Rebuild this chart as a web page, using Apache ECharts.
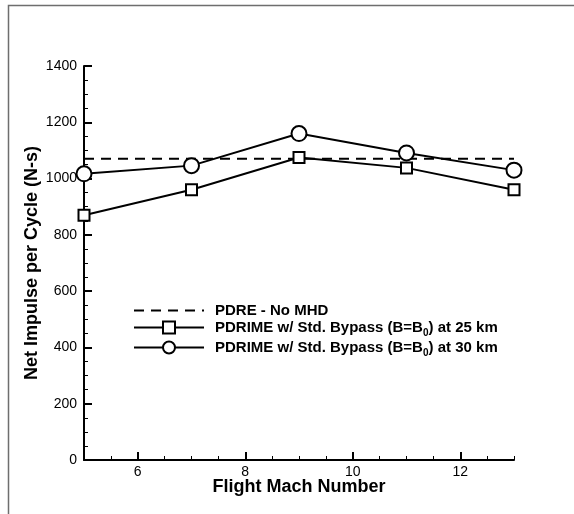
<!DOCTYPE html>
<html>
<head>
<meta charset="utf-8">
<script src="https://cdn.jsdelivr.net/npm/echarts@6/dist/echarts.min.js"></script>
<style>
  html, body { margin: 0; padding: 0; background: #fff; }
  #chart { width: 574px; height: 514px; }
</style>
</head>
<body>
<div id="chart"></div>
<script>
// Flight Mach number samples
const machNumbers = [5, 7, 9, 11, 13];
// Net impulse per cycle (N-s)
const bypass25km = [870, 960, 1075, 1038, 960];
const bypass30km = [1017, 1046, 1160, 1091, 1030];
const noMhdLevel = 1070;
const noMhd = [[5, noMhdLevel], [13, noMhdLevel]];

const xMajorTicks = [6, 8, 10, 12];
const xMinorTicks = [5.5, 6.5, 7, 7.5, 8.5, 9, 9.5, 10.5, 11, 11.5, 12.5, 13];

const seriesNames = [
  'PDRE - No MHD',
  'PDRIME w/ Std. Bypass (B=B0) at 25 km',
  'PDRIME w/ Std. Bypass (B=B0) at 30 km'
];

const FONT = '"Liberation Sans", Arial, sans-serif';

const chart = echarts.init(document.getElementById('chart'), null, { renderer: 'canvas' });

const xBase = {
  type: 'value',
  min: 5,
  max: 13,
  interval: 1,
  position: 'bottom',
  splitLine: { show: false }
};

chart.setOption({
  backgroundColor: '#fff',
  animation: false,
  grid: { left: 84, right: 60, top: 66, bottom: 54 },
  graphic: [{
    type: 'polyline',
    shape: { points: [[8.5, 520], [8.5, 5.5], [580, 5.5]] },
    style: { stroke: '#6e6e6e', lineWidth: 1.5, fill: null },
    silent: true
  }],
  legend: {
    left: 133,
    top: 303,
    padding: 0,
    orient: 'vertical',
    itemWidth: 70,
    itemHeight: 15,
    itemGap: 2,
    data: [
      { name: seriesNames[0], itemStyle: { opacity: 0 } },
      { name: seriesNames[1] },
      { name: seriesNames[2] }
    ],
    textStyle: {
      fontFamily: FONT,
      fontSize: 15,
      fontWeight: 'bold',
      color: '#000',
      padding: [0, 0, 0, 6],
      rich: {
        b: { fontFamily: FONT, fontSize: 15, fontWeight: 'bold', color: '#000' },
        sub: { fontFamily: FONT, fontSize: 10, fontWeight: 'bold', color: '#000', verticalAlign: 'bottom', padding: [0, 0, -3, 0] }
      }
    },
    formatter: function (name) {
      const parts = name.split('B=B0');
      if (parts.length === 1) return '{b|' + name + '}';
      return '{b|' + parts[0] + 'B=B}{sub|0}{b|' + parts[1] + '}';
    }
  },
  xAxis: [
    Object.assign({}, xBase, {
      axisLine: { show: true, onZero: false, lineStyle: { color: '#000', width: 2 } },
      axisTick: { show: true, inside: true, length: 8, customValues: xMajorTicks, lineStyle: { color: '#000', width: 2 } },
      axisLabel: { show: true, customValues: xMajorTicks, margin: 5, color: '#000', fontFamily: FONT, fontSize: 14 },
      name: 'Flight Mach Number',
      nameLocation: 'middle',
      nameGap: 18,
      nameMoveOverlap: false,
      nameTextStyle: { fontFamily: FONT, fontSize: 18, fontWeight: 'bold', color: '#000' }
    }),
    Object.assign({}, xBase, {
      axisLine: { show: false },
      axisTick: { show: true, inside: true, length: 4, customValues: xMinorTicks, lineStyle: { color: '#000', width: 1 } },
      axisLabel: { show: false }
    })
  ],
  yAxis: {
    type: 'value',
    min: 0,
    max: 1400,
    interval: 200,
    splitLine: { show: false },
    axisLine: { show: true, lineStyle: { color: '#000', width: 2 } },
    axisTick: { show: true, inside: true, length: 8, lineStyle: { color: '#000', width: 2 } },
    minorTick: { show: true, splitNumber: 4, length: 4, lineStyle: { color: '#000', width: 1 } },
    axisLabel: { margin: 7, color: '#000', fontFamily: FONT, fontSize: 14, formatter: function (v) { return String(v); } },
    name: 'Net Impulse per Cycle (N-s)',
    nameLocation: 'middle',
    nameGap: 43,
    nameMoveOverlap: false,
    nameTextStyle: { fontFamily: FONT, fontSize: 18, fontWeight: 'bold', color: '#000' }
  },
  series: [
    {
      name: seriesNames[0],
      type: 'line',
      xAxisIndex: 0,
      data: noMhd,
      symbol: 'none',
      lineStyle: { color: '#000', width: 2, type: [10, 7] },
      itemStyle: { color: '#000' },
      z: 1
    },
    {
      name: seriesNames[1],
      type: 'line',
      xAxisIndex: 0,
      data: machNumbers.map((m, i) => [m, bypass25km[i]]),
      symbol: 'rect',
      symbolSize: 11,
      showAllSymbol: true,
      lineStyle: { color: '#000', width: 2 },
      itemStyle: { color: '#fff', borderColor: '#000', borderWidth: 2 },
      z: 3
    },
    {
      name: seriesNames[2],
      type: 'line',
      xAxisIndex: 0,
      data: machNumbers.map((m, i) => [m, bypass30km[i]]),
      symbol: 'circle',
      symbolSize: 15,
      showAllSymbol: true,
      lineStyle: { color: '#000', width: 2 },
      itemStyle: { color: '#fff', borderColor: '#000', borderWidth: 2 },
      z: 4
    }
  ]
});
</script>
</body>
</html>
